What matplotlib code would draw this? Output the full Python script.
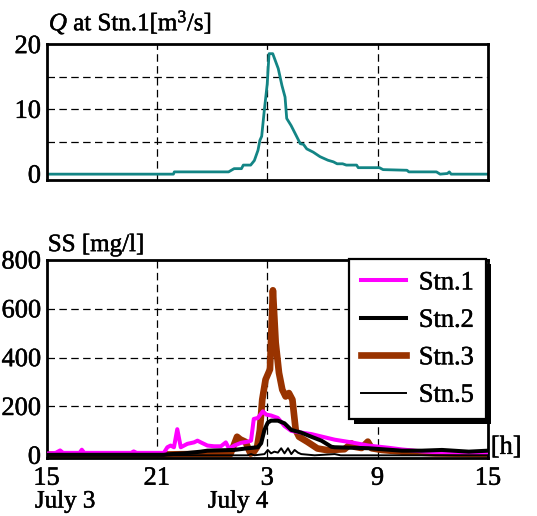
import matplotlib
matplotlib.use("Agg")
import matplotlib.pyplot as plt
import matplotlib.patheffects as pe
from matplotlib.patches import Rectangle
from matplotlib.transforms import IdentityTransform

plt.rcParams['font.family'] = ['Liberation Serif', 'DejaVu Serif']
plt.rcParams['mathtext.fontset'] = 'custom'
plt.rcParams['mathtext.rm'] = 'Liberation Serif'
plt.rcParams['mathtext.it'] = 'Liberation Serif:italic'

# hours after 15:00 July 3
q_hours = [0, 6.9, 6.95, 9.9, 10.2, 10.6, 10.7, 11.1, 11.3, 11.5, 11.6, 11.7, 11.84,
           12.0, 12.1, 12.3, 12.6, 12.8, 12.97, 13.06, 13.3, 13.8, 13.97, 14.15, 14.5,
           14.87, 15.3, 15.6, 15.8, 16.1, 16.3, 16.86, 16.95, 18.1, 18.3, 19.6, 19.7,
           21.2, 21.4, 21.8, 21.9, 22.0, 24]
q_vals = [0, 0, 0.35, 0.35, 0.85, 0.85, 1.4, 1.4, 2.1, 3.7, 5.2, 5.85, 9.8,
          13.9, 18.6, 18.6, 16.3, 13.7, 11.9, 8.6, 7.5, 4.7, 4.6, 3.9, 3.4,
          2.7, 2.15, 1.9, 1.6, 1.6, 1.4, 1.4, 1.0, 1.0, 0.7, 0.6, 0.35,
          0.35, 0, 0.1, 0.35, 0, 0]

s1_h = [0, 0.5, 0.74, 0.9, 1.8, 1.92, 2.05, 4.6, 4.74, 4.9, 6.38, 6.57, 6.75, 6.93,
        7.11, 7.3, 7.66, 8.02, 8.21, 8.39, 8.75, 9.11, 9.48, 9.75, 9.93, 10.21, 10.57,
        10.94, 11.12, 11.27, 11.49, 11.76, 11.94, 12.21, 12.58, 12.94, 13.31, 13.85,
        14.4, 14.95, 15.67, 16.58, 17.5, 18.59, 19.32, 20.41, 21.14, 22.96, 24]
s1_v = [7, 10, 20, 10, 10, 23, 10, 10, 16, 10, 10, 33, 40, 33,
        107, 33, 47, 53, 60, 53, 40, 37, 37, 53, 27, 40, 51,
        56, 60, 149, 153, 180, 167, 163, 153, 120, 100, 93,
        87, 77, 64, 53, 40, 31, 24, 16, 13, 11, 11]

s2_h = [0, 6.38, 6.57, 7.48, 8.39, 8.75, 10.21, 10.94, 11.49, 11.67, 11.85, 12.03,
        12.21, 12.58, 12.94, 13.31, 13.85, 14.4, 14.95, 15.49, 15.67, 17.5, 19.32,
        20.41, 21.5, 22.96, 24]
s2_v = [2, 2, 4, 8, 15, 19, 22, 29, 33, 49, 104, 134,
        142, 142, 131, 104, 93, 76, 60, 35, 33, 29, 19,
        19, 22, 15, 19]

s3_h = [0, 6.0, 8.0, 10.0, 10.36, 10.54, 10.82, 11.09, 11.27, 11.45, 11.6, 11.73,
        11.91, 12.15, 12.31, 12.46, 12.64, 12.82, 13.0, 13.18, 13.37, 13.55, 13.73,
        14.19, 14.73, 15.28, 16.2, 16.58, 16.76, 17.13, 17.47, 17.68, 18.23, 19.32,
        21.14, 22.96, 24]
s3_v = [3, 3, 5, 5, 76, 65, 55, 7, 14, 34, 103, 228,
        310, 352, 676, 462, 338, 269, 241, 255, 228, 103, 76,
        55, 28, 21, 25, 49, 35, 30, 56, 29, 22, 15,
        8, 6, 5]

s5_h = [0, 10.94, 11.12, 11.3, 11.85, 12.03, 12.21, 12.39, 12.58, 12.76, 12.94,
        13.13, 13.31, 13.49, 13.67, 13.85, 14.58, 15.67, 16.0, 24]
s5_v = [0, 0, 5, 0, 5, 22, 8, 15, 11, 29, 8,
        29, 5, 22, 11, 5, 0, 5, 0, 0]

tick_pos = [0, 6, 12, 18, 24]
tick_lab = ['15', '21', '3', '9', '15']

bold = [pe.withStroke(linewidth=0.35, foreground='black')]

fig = plt.figure(figsize=(5.37, 5.16), dpi=100)
ax1 = fig.add_axes([0.0866, 0.6512, 0.822, 0.2636])
ax2 = fig.add_axes([0.0866, 0.1124, 0.822, 0.3837])

grid_kw = dict(color='black', lw=0.9, ls=(0, (6, 3.5)), zorder=0.5)

# discharge
ax1.plot(q_hours, q_vals, color='#138585', lw=2.0)
ax1.set_xlim(0, 24)
ax1.set_ylim(-0.9, 20.1)
ax1.set_yticks([0, 10, 20])
ax1.set_xticks(tick_pos)
ax1.set_xticklabels([])
for x in [6, 12, 18]:
    ax1.axvline(x, **grid_kw)
for y in [5, 10, 15]:
    ax1.axhline(y, **grid_kw)

# suspended solids
l1, = ax2.plot(s1_h, s1_v, color='#ff00ff', lw=2.9, label='Stn.1', zorder=3)
l2, = ax2.plot(s2_h, s2_v, color='black', lw=2.9, label='Stn.2', zorder=4)
l3, = ax2.plot(s3_h, s3_v, color='#993300', lw=4.8, label='Stn.3', zorder=2)
l5, = ax2.plot(s5_h, s5_v, color='black', lw=1.4, label='Stn.5', zorder=4)
ax2.set_xlim(0, 24)
ax2.set_ylim(-11, 800)
ax2.set_yticks([0, 200, 400, 600, 800])
ax2.set_xticks(tick_pos)
ax2.set_xticklabels(tick_lab)
for x in [6, 12, 18]:
    ax2.axvline(x, **grid_kw)
for y in [200, 400, 600]:
    ax2.axhline(y, **grid_kw)

for ax in (ax1, ax2):
    for s in ax.spines.values():
        s.set_linewidth(2.0)
    ax.tick_params(length=0, labelsize=19, pad=4)
    for t in ax.get_xticklabels() + ax.get_yticklabels():
        t.set_path_effects(bold)
ax2.tick_params(axis='x', pad=7)

leg = ax2.legend(handles=[l1, l2, l3, l5], loc='upper right', bbox_to_anchor=(0.995, 1.005),
                 borderaxespad=0.0, fontsize=19, frameon=True, fancybox=False,
                 handlelength=1.7, handletextpad=0.5, labelspacing=0.53,
                 borderpad=0.45, framealpha=1)
leg.get_frame().set_edgecolor('black')
leg.get_frame().set_linewidth(1.6)
leg.set_zorder(6)
for t in leg.get_texts():
    t.set_path_effects(bold)

texts = [
    fig.text(0.091, 0.957, r'$\mathit{Q}$ at Stn.1[m$^3$/s]', fontsize=18, va='center', ha='left'),
    fig.text(0.089, 0.525, 'SS [mg/l]', fontsize=18, va='center', ha='left'),
    fig.text(0.914, 0.132, '[h]', fontsize=19, va='center', ha='left'),
    fig.text(0.065, 0.028, 'July 3', fontsize=18, va='center', ha='left'),
    fig.text(0.387, 0.028, 'July 4', fontsize=18, va='center', ha='left'),
]
for t in texts:
    t.set_path_effects(bold)

# solid black drop shadow behind the legend box
fig.canvas.draw()
bb = leg.get_window_extent()
ax2.add_patch(Rectangle((bb.x0 + 5, bb.y0 - 5), bb.width, bb.height, facecolor='black',
                        edgecolor='none', transform=IdentityTransform(), clip_on=False,
                        zorder=5.5))

fig.savefig('out.png', dpi=100)
